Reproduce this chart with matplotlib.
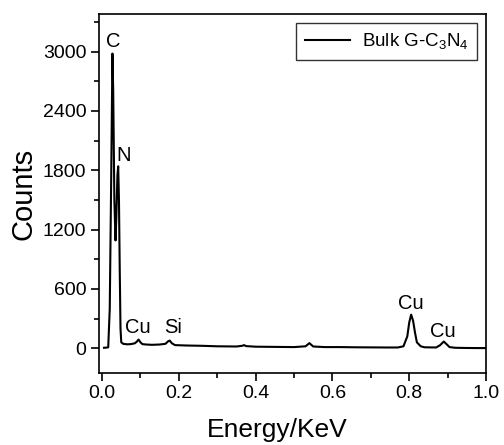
import matplotlib
matplotlib.use("Agg")
import matplotlib.pyplot as plt
from matplotlib.ticker import MultipleLocator

plt.rcParams['font.family'] = ['Liberation Sans', 'DejaVu Sans']
plt.rcParams['mathtext.default'] = 'regular'

energy = [0.005, 0.010, 0.016, 0.020, 0.024, 0.027, 0.029, 0.032, 0.035, 0.037,
          0.040, 0.042, 0.044, 0.046, 0.048, 0.050, 0.055, 0.065, 0.075, 0.085,
          0.090, 0.095, 0.100, 0.105, 0.115, 0.130, 0.150, 0.165, 0.172, 0.176,
          0.182, 0.190, 0.220, 0.260, 0.300, 0.350, 0.365, 0.370, 0.375, 0.400,
          0.450, 0.500, 0.530, 0.540, 0.550, 0.580, 0.620, 0.660, 0.700, 0.740,
          0.770, 0.785, 0.795, 0.800, 0.805, 0.810, 0.815, 0.820, 0.830, 0.840,
          0.870, 0.880, 0.890, 0.895, 0.905, 0.920, 0.950, 0.980, 1.000]
counts = [5, 6, 10, 400, 1800, 2980, 2600, 1500, 1090, 1300,
          1750, 1840, 1500, 800, 200, 60, 45, 40, 42, 50,
          65, 88, 60, 42, 38, 35, 38, 45, 70, 78,
          50, 32, 28, 25, 20, 18, 25, 32, 22, 16,
          14, 12, 20, 52, 18, 12, 12, 10, 9, 8,
          8, 20, 120, 260, 340, 280, 160, 60, 20, 10,
          8, 30, 68, 50, 12, 5, 3, 2, 2]

peak_labels = ["C", "N", "Cu", "Si", "Cu", "Cu"]
peak_x = [0.029, 0.056, 0.094, 0.185, 0.805, 0.887]
peak_y = [3050, 1890, 155, 155, 395, 115]

fig = plt.figure(figsize=(5.04, 4.45), dpi=100)
ax = fig.add_axes([99/504, 1-373/445, (486-99)/504, (373-14)/445])
ax.plot(energy, counts, color='black', lw=1.5, label='Bulk G-C$_3$N$_4$')

for lab, x, y in zip(peak_labels, peak_x, peak_y):
    ax.text(x, y, lab, fontsize=14.5, ha='center', va='baseline')

ax.set_xlim(-0.008, 1.0)
ax.set_ylim(-250, 3380)
ax.xaxis.set_minor_locator(MultipleLocator(0.1))
ax.yaxis.set_major_locator(MultipleLocator(600))
ax.yaxis.set_minor_locator(MultipleLocator(300))
ax.set_xticks([0, 0.2, 0.4, 0.6, 0.8, 1.0])
ax.set_xticklabels(['0.0', '0.2', '0.4', '0.6', '0.8', '1.0'])
ax.tick_params(which='both', direction='out', labelsize=14, pad=3)
ax.tick_params(which='major', length=6, width=1.2)
ax.tick_params(which='minor', length=3.5, width=1.2)
for s in ax.spines.values():
    s.set_linewidth(1.2)

ax.set_xlabel('Energy/KeV', fontsize=19)
ax.set_ylabel('Counts', fontsize=21)
ax.xaxis.set_label_coords(0.46, -0.124)
ax.yaxis.set_label_coords(-0.16, 0.5)

leg = ax.legend(loc='upper right', fontsize=13.5, frameon=True, fancybox=False,
                edgecolor='black', handlelength=2.4, handletextpad=0.65,
                borderpad=0.45, borderaxespad=0,
                bbox_to_anchor=(0.977, 0.975))
leg.get_frame().set_linewidth(1.0)

fig.savefig('out.png', dpi=100)
